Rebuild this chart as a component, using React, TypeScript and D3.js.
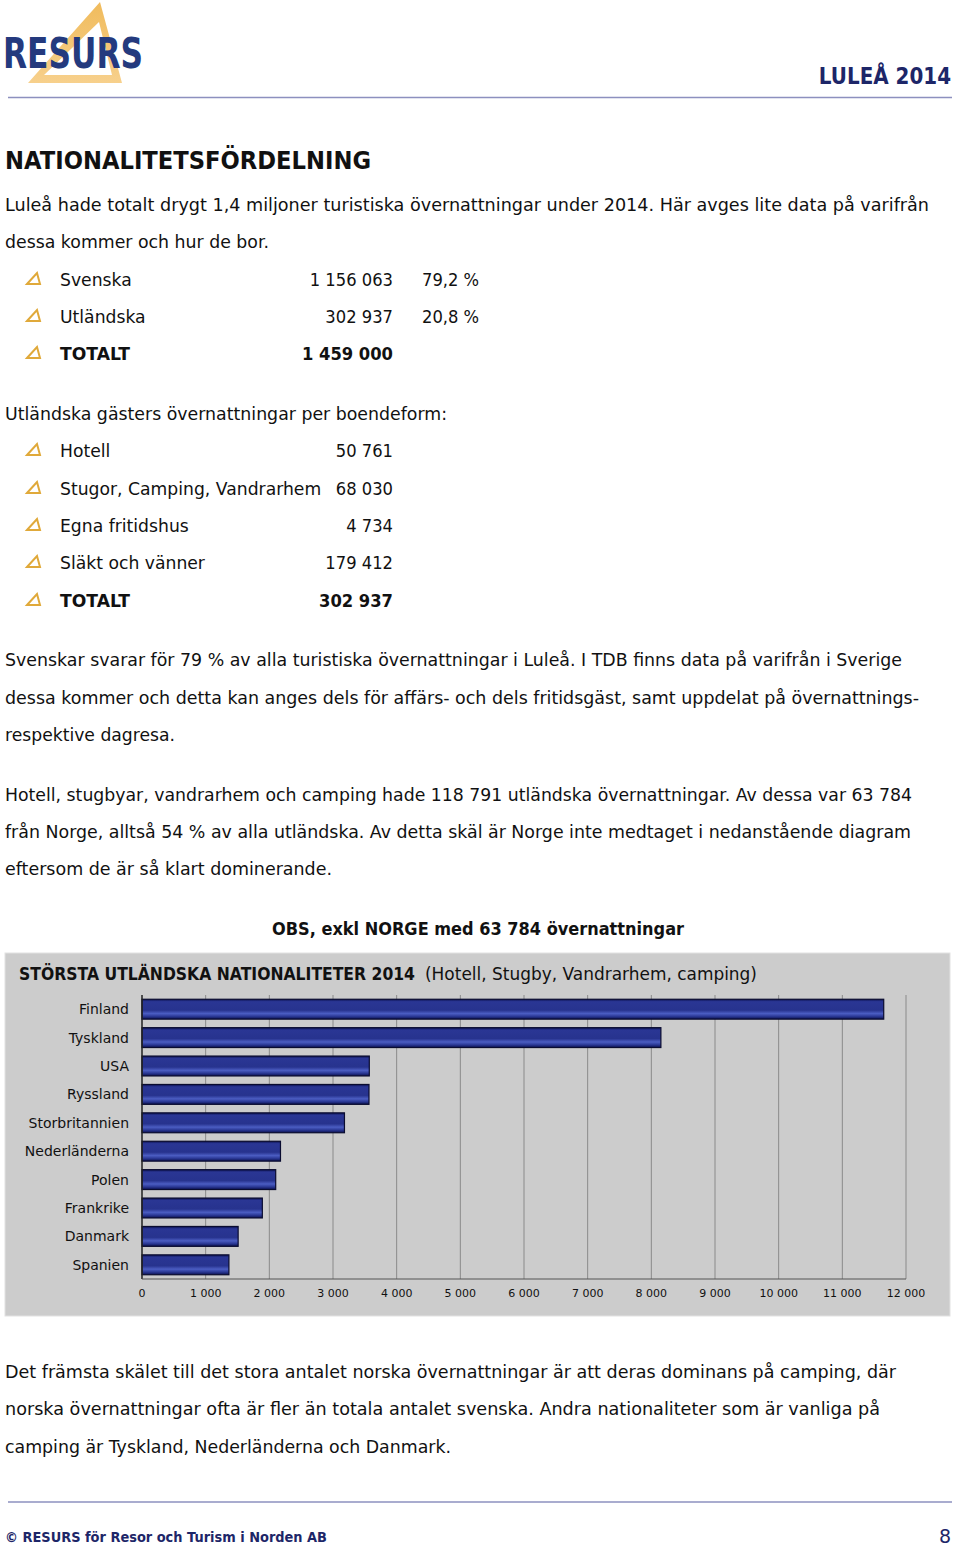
import React from 'react';
import * as d3 from 'd3';

// ---------- data ----------
const summaryLabels = ['Svenska', 'Utländska', 'TOTALT'];
const summaryValues = [1156063, 302937, 1459000];
const summaryShares = ['79,2 %', '20,8 %', ''];

const lodgingLabels = ['Hotell', 'Stugor, Camping, Vandrarhem', 'Egna fritidshus', 'Släkt och vänner', 'TOTALT'];
const lodgingValues = [50761, 68030, 4734, 179412, 302937];

const countries = ['Finland', 'Tyskland', 'USA', 'Ryssland', 'Storbritannien', 'Nederländerna', 'Polen', 'Frankrike', 'Danmark', 'Spanien'];
const nights = [11650, 8150, 3570, 3565, 3180, 2175, 2100, 1890, 1510, 1365];
const xTicks = [0, 1000, 2000, 3000, 4000, 5000, 6000, 7000, 8000, 9000, 10000, 11000, 12000];

const FONT = "'DejaVu Sans', 'Noto Sans', sans-serif";
const NAVY = '#1d2668';
const NUM_SCALE = 0.885; // DejaVu is wider than the original face
const LABEL_SCALE = 0.93;

const locale = d3.formatLocale({ decimal: ',', thousands: ' ', grouping: [3], currency: ['', ' kr'] });
const fmt = locale.format(',d');

// body text lines: [text, y baseline, x width]
const introLines: [string, number, number][] = [
  ['Luleå hade totalt drygt 1,4 miljoner turistiska övernattningar under 2014. Här avges lite data på varifrån', 211, 924],
  ['dessa kommer och hur de bor.', 248, 264],
];
const midLines: [string, number, number][] = [
  ['Svenskar svarar för 79 % av alla turistiska övernattningar i Luleå. I TDB finns data på varifrån i Sverige', 666, 897],
  ['dessa kommer och detta kan anges dels för affärs- och dels fritidsgäst, samt uppdelat på övernattnings-', 704, 914],
  ['respektive dagresa.', 741, 170],
  ['Hotell, stugbyar, vandrarhem och camping hade 118 791 utländska övernattningar. Av dessa var 63 784', 801, 907],
  ['från Norge, alltså 54 % av alla utländska. Av detta skäl är Norge inte medtaget i nedanstående diagram', 838, 906],
  ['eftersom de är så klart dominerande.', 875, 327],
];
const endLines: [string, number, number][] = [
  ['Det främsta skälet till det stora antalet norska övernattningar är att deras dominans på camping, där', 1378, 891],
  ['norska övernattningar ofta är fler än totala antalet svenska. Andra nationaliteter som är vanliga på', 1415, 875],
  ['camping är Tyskland, Nederländerna och Danmark.', 1453, 446],
];

function Bullet({ y }: { y: number }) {
  return (
    <path
      d={`M27,${y + 5} L37,${y - 6} L40,${y + 5} Z`}
      fill="none"
      stroke="#e0a93a"
      strokeWidth={2}
      strokeLinejoin="miter"
    />
  );
}

function Lines({ lines }: { lines: [string, number, number][] }) {
  return (
    <>
      {lines.map(([t, y, w], i) => (
        <text key={i} x={5} y={y} fontSize={18.5} textLength={w} lengthAdjust="spacingAndGlyphs" fill="#111">
          {t}
        </text>
      ))}
    </>
  );
}

// a narrowed text (horizontal squeeze around its anchor point)
function NText({ x, y, anchor = 'start', bold = false, size = 18.5, sx = NUM_SCALE, children }: any) {
  return (
    <g transform={`translate(${x},${y}) scale(${sx},1)`}>
      <text x={0} y={0} fontSize={size} textAnchor={anchor} fontWeight={bold ? 'bold' : 'normal'} fill="#111">
        {children}
      </text>
    </g>
  );
}

export default function App() {
  const x = d3.scaleLinear().domain([0, 12000]).range([142, 906]);
  const y = d3.scaleBand<string>().domain(countries).range([995, 1279]).paddingInner(0.3).paddingOuter(0.15);

  const summaryRowY = [286, 323, 360];
  const lodgingRowY = [457, 495, 532, 569, 607];

  return (
    <svg width={960} height={1549} style={{ position: 'absolute', left: 0, top: 0, display: 'block' }} fontFamily={FONT}>
      <defs>
        <linearGradient id="barGrad" x1="0" y1="0" x2="0" y2="1">
          <stop offset="0" stopColor="#0c1150" />
          <stop offset="0.12" stopColor="#2a3694" />
          <stop offset="0.55" stopColor="#27338e" />
          <stop offset="0.72" stopColor="#4b5dc2" />
          <stop offset="0.86" stopColor="#2b3996" />
          <stop offset="1" stopColor="#0c1150" />
        </linearGradient>
        <linearGradient id="logoGrad" x1="0" y1="0" x2="0" y2="1">
          <stop offset="0" stopColor="#f0bb5c" />
          <stop offset="1" stopColor="#f7d08c" />
        </linearGradient>
      </defs>
      <rect x={0} y={0} width={960} height={1549} fill="#fff" />

      {/* header */}
      <path d="M100,2 L122,83 L28,83 Z M99,22 L112,75 L44,75 Z" fill="url(#logoGrad)" fillRule="evenodd" />
      <text x={3} y={68} fontSize={43} fontWeight="bold" fill="#243a7e" textLength={140} lengthAdjust="spacingAndGlyphs">RESURS</text>
      <NText x={951} y={84} anchor="end" bold size={22.5}>
        <tspan fill={NAVY}>LULEÅ 2014</tspan>
      </NText>
      <line x1={8} x2={952} y1={97.5} y2={97.5} stroke="#8d90bf" strokeWidth={1.5} />

      {/* title */}
      <text x={5} y={169} fontSize={24} fontWeight="bold" fill="#111" textLength={366} lengthAdjust="spacingAndGlyphs">NATIONALITETSFÖRDELNING</text>
      <Lines lines={introLines} />

      {/* summary table */}
      {summaryLabels.map((l, i) => {
        const bold = l === 'TOTALT';
        return (
          <g key={l}>
            <Bullet y={summaryRowY[i] - 7} />
            <NText x={60} y={summaryRowY[i]} bold={bold} sx={LABEL_SCALE}>{l}</NText>
            <NText x={393} y={summaryRowY[i]} anchor="end" bold={bold}>{fmt(summaryValues[i])}</NText>
            {summaryShares[i] && <NText x={422} y={summaryRowY[i]}>{summaryShares[i]}</NText>}
          </g>
        );
      })}

      <text x={5} y={420} fontSize={18.5} fill="#111" textLength={442} lengthAdjust="spacingAndGlyphs">Utländska gästers övernattningar per boendeform:</text>
      {lodgingLabels.map((l, i) => {
        const bold = l === 'TOTALT';
        return (
          <g key={l}>
            <Bullet y={lodgingRowY[i] - 7} />
            <NText x={60} y={lodgingRowY[i]} bold={bold} sx={LABEL_SCALE}>{l}</NText>
            <NText x={393} y={lodgingRowY[i]} anchor="end" bold={bold}>{fmt(lodgingValues[i])}</NText>
          </g>
        );
      })}

      <Lines lines={midLines} />

      <text x={272} y={935} fontSize={18.5} fontWeight="bold" fill="#111" textLength={412} lengthAdjust="spacingAndGlyphs">OBS, exkl NORGE med 63 784 övernattningar</text>

      {/* chart */}
      <rect x={5} y={953} width={945} height={363} fill="#cccccc" stroke="#e2e2e2" strokeWidth={1} />
      <text x={19} y={980} fontSize={18} fontWeight="bold" fill="#111" textLength={396} lengthAdjust="spacingAndGlyphs">STÖRSTA UTLÄNDSKA NATIONALITETER 2014</text>
      <text x={425} y={980} fontSize={18} fill="#111" textLength={332} lengthAdjust="spacingAndGlyphs">(Hotell, Stugby, Vandrarhem, camping)</text>

      {xTicks.slice(1).map((t) => (
        <line key={t} x1={x(t)} x2={x(t)} y1={995} y2={1279} stroke="#8a8a8a" strokeWidth={1} />
      ))}
      {countries.map((c, i) => (
        <g key={c}>
          <rect
            x={x(0)}
            y={y(c)!}
            width={x(nights[i]) - x(0)}
            height={y.bandwidth()}
            fill="url(#barGrad)"
            stroke="#0a0c30"
            strokeWidth={1.2}
          />
          <text x={129} y={y(c)! + y.bandwidth() / 2 + 5} fontSize={14} fill="#111" textAnchor="end">{c}</text>
        </g>
      ))}
      <line x1={x(0)} x2={x(0)} y1={995} y2={1279} stroke="#222" strokeWidth={1.5} />
      <line x1={x(0)} x2={x(12000)} y1={1279} y2={1279} stroke="#555" strokeWidth={1.2} />
      {xTicks.map((t) => (
        <text key={t} x={x(t)} y={1297} fontSize={11} fill="#111" textAnchor="middle">{fmt(t)}</text>
      ))}

      <Lines lines={endLines} />

      {/* footer */}
      <line x1={8} x2={952} y1={1502} y2={1502} stroke="#8d90bf" strokeWidth={1.5} />
      <text x={5} y={1542} fontSize={14.5} fontWeight="bold" fill={NAVY} textLength={322} lengthAdjust="spacingAndGlyphs">© RESURS för Resor och Turism i Norden AB</text>
      <text x={951} y={1543} fontSize={19} fill={NAVY} textAnchor="end">8</text>
    </svg>
  );
}
